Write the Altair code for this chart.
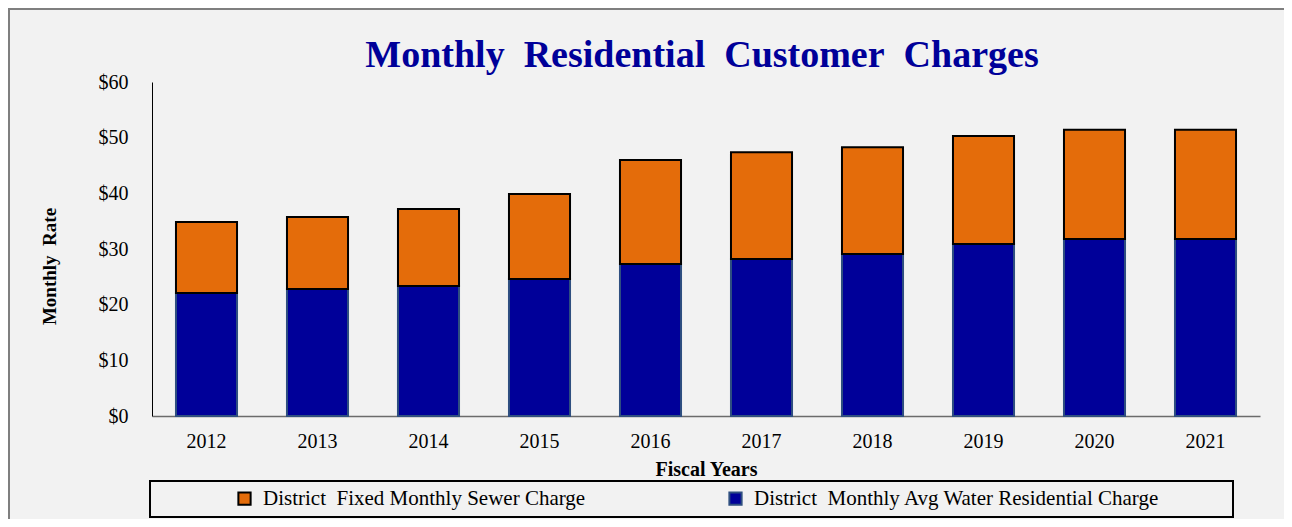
import altair as alt
import pandas as pd

years = ["2012", "2013", "2014", "2015", "2016", "2017", "2018", "2019", "2020", "2021"]
water = [22.1, 22.8, 23.35, 24.6, 27.3, 28.2, 29.1, 30.9, 31.8, 31.8]
sewer = [12.75, 12.95, 13.85, 15.3, 18.7, 19.2, 19.2, 19.4, 19.6, 19.6]

S_WATER = "District\u00a0 Monthly Avg Water Residential Charge"
S_SEWER = "District\u00a0 Fixed Monthly Sewer Charge"

rows = []
for y, w in zip(years, water):
    rows.append({"year": y, "series": S_WATER, "value": w, "ord": 0})
for y, s in zip(years, sewer):
    rows.append({"year": y, "series": S_SEWER, "value": s, "ord": 1})
df = pd.DataFrame(rows)

W, H = 1108, 334
FONT = "Liberation Serif"

bars = alt.Chart(df).mark_bar(strokeWidth=2).encode(
    x=alt.X("year:N", sort=years,
            scale=alt.Scale(paddingInner=0.45, paddingOuter=0.216),
            axis=alt.Axis(title="Fiscal Years", labelAngle=0, ticks=False,
                          labelPadding=15, titlePadding=8,
                          domainColor="#6b6b6b", domainWidth=1.5)),
    y=alt.Y("value:Q", stack="zero",
            scale=alt.Scale(domain=[0, 60], nice=False),
            axis=alt.Axis(title="Monthly\u00a0 Rate", values=[0, 10, 20, 30, 40, 50, 60],
                          format="$,.0f", ticks=False, grid=False, labelPadding=24,
                          domainColor="#000000", domainWidth=1,
                          titleX=-103, titleY=184, titleAngle=270,
                          titleAlign="center", titleBaseline="middle")),
    color=alt.Color("series:N",
                    scale=alt.Scale(domain=[S_SEWER, S_WATER], range=["#e46c0a", "#000099"]),
                    legend=alt.Legend(title=None)),
    stroke=alt.Stroke("series:N",
                      scale=alt.Scale(domain=[S_SEWER, S_WATER], range=["#000000", "#2f4f80"]),
                      legend=alt.Legend(title=None)),
    order=alt.Order("ord:Q"),
)

frame = alt.Chart(pd.DataFrame({"a": [0]})).mark_rect(
    filled=False, stroke="#7f7f7f", strokeWidth=2
).encode(x=alt.value(-143), x2=alt.value(W + 400), y=alt.value(-73), y2=alt.value(H + 300))

legend_box = alt.Chart(pd.DataFrame({"a": [0]})).mark_rect(
    filled=False, stroke="#000000", strokeWidth=2
).encode(x=alt.value(-2), x2=alt.value(1081), y=alt.value(399), y2=alt.value(435))

chart = alt.layer(frame, legend_box, bars).properties(
    width=W, height=H,
    padding={"left": 144, "top": 74, "right": 24, "bottom": 103},
    autosize=alt.AutoSizeParams(type="none"),
    background="#f2f2f2",
    title=alt.TitleParams("Monthly\u00a0 Residential\u00a0 Customer\u00a0 Charges",
                          font=FONT, fontSize=38, fontWeight="bold", color="#000099",
                          anchor="middle", offset=10, dy=77, dx=-4),
).configure_view(stroke=None).configure_axis(
    labelFont=FONT, labelFontSize=20, labelColor="#000000",
    titleFont=FONT, titleFontSize=20, titleFontWeight="bold", titleColor="#000000",
).configure_axisY(titleFontSize=19).configure_legend(
    orient="none", legendX=82, legendY=406, direction="horizontal",
    labelFont=FONT, labelFontSize=21, labelColor="#000000", labelLimit=600,
    symbolType="square", symbolSize=150, symbolStrokeWidth=2,
    columnPadding=139, labelOffset=8, padding=0,
)

chart.save("out.html", embed_options={"renderer": "svg", "actions": False})
